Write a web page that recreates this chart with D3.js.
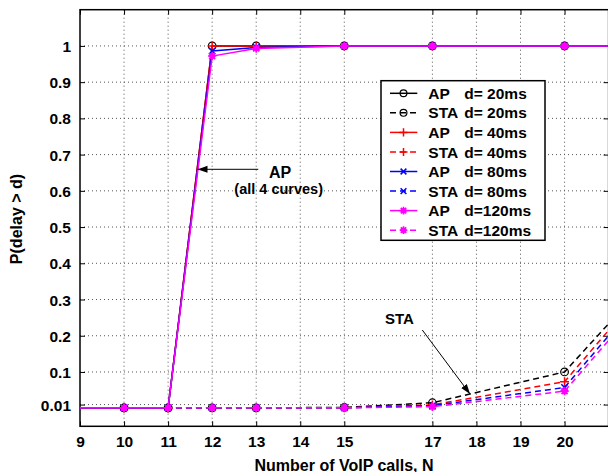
<!DOCTYPE html>
<html>
<head>
<meta charset="utf-8">
<script src="https://cdn.jsdelivr.net/npm/d3@7/dist/d3.min.js"></script>
<style>
  html, body { margin: 0; padding: 0; background: #fff; }
  svg { display: block; font-family: "Liberation Sans", Arial, Helvetica, sans-serif; font-weight: bold; }
</style>
</head>
<body>
<svg id="chart" width="608" height="472"></svg>
<script>
// ---- data ----
const calls = [8, 10, 11, 12, 13, 15, 17, 20, 22];
const AP20  = [0.001, 0.001, 0.001, 1.000, 1.000, 1, 1, 1, 1];
const AP40  = [0.001, 0.001, 0.001, 1.000, 1.000, 1, 1, 1, 1];
const AP80  = [0.001, 0.001, 0.001, 0.986, 0.996, 1, 1, 1, 1];
const AP120 = [0.001, 0.001, 0.001, 0.972, 0.993, 1, 1, 1, 1];
const STA20  = [0.001, 0.001, 0.001, 0.001, 0.001, 0.002, 0.015, 0.100, 0.366];
const STA40  = [0.001, 0.001, 0.001, 0.001, 0.001, 0.001, 0.009, 0.073, 0.357];
const STA80  = [0.001, 0.001, 0.001, 0.001, 0.001, 0.001, 0.007, 0.057, 0.343];
const STA120 = [0.001, 0.001, 0.001, 0.001, 0.001, 0.001, 0.004, 0.047, 0.327];
const xTicks = [9, 10, 11, 12, 13, 14, 15, 17, 18, 19, 20];
const yTicks = [0.01, 0.1, 0.2, 0.3, 0.4, 0.5, 0.6, 0.7, 0.8, 0.9, 1];
const legendLabels = [["AP", "d= 20ms"], ["STA", "d= 20ms"], ["AP", "d= 40ms"], ["STA", "d= 40ms"],
                      ["AP", "d= 80ms"], ["STA", "d= 80ms"], ["AP", "d=120ms"], ["STA", "d=120ms"]];

const series = [
  {vals: AP20,  color: "#000000", marker: "circle",   dashed: false},
  {vals: STA20, color: "#000000", marker: "circle",   dashed: true},
  {vals: AP40,  color: "#ff0000", marker: "plus",     dashed: false},
  {vals: STA40, color: "#ff0000", marker: "plus",     dashed: true},
  {vals: AP80,  color: "#0000ff", marker: "cross",    dashed: false},
  {vals: STA80, color: "#0000ff", marker: "cross",    dashed: true},
  {vals: AP120, color: "#ff00ff", marker: "asterisk", dashed: false},
  {vals: STA120,color: "#ff00ff", marker: "asterisk", dashed: true}
];

// ---- layout ----
const L = 80, R = 608.6, T = 9.7, B = 426.3;
const x = d3.scaleLinear().domain([9, 21]).range([L, R]);
const y = d3.scaleLinear().domain([-0.05, 1.1]).range([B, T]);

const svg = d3.select("#chart");
svg.append("defs").append("clipPath").attr("id", "clip")
  .append("rect").attr("x", L).attr("y", T).attr("width", R - L).attr("height", B - T);

// grid
const grid = svg.append("g");
grid.selectAll("line.vg").data(xTicks.filter(d => d !== 9)).join("line")
  .attr("x1", d => x(d)).attr("x2", d => x(d)).attr("y1", T).attr("y2", B)
  .attr("stroke", "#555").attr("stroke-width", 1).attr("stroke-dasharray", "1,3");
grid.selectAll("line.hg").data(yTicks).join("line")
  .attr("x1", L).attr("x2", R).attr("y1", d => y(d)).attr("y2", d => y(d))
  .attr("stroke", "#555").attr("stroke-width", 1).attr("stroke-dasharray", "1,3");

// axes (inward ticks)
const fmtY = d => (d === 1 ? "1" : String(d));
const axB = svg.append("g").attr("transform", `translate(0,${B})`)
  .call(d3.axisBottom(x).tickValues(xTicks).tickSize(-5).tickPadding(10).tickFormat(d3.format("d")));
const axT = svg.append("g").attr("transform", `translate(0,${T})`)
  .call(d3.axisTop(x).tickValues(xTicks).tickSize(-5).tickFormat(""));
const axL = svg.append("g").attr("transform", `translate(${L},0)`)
  .call(d3.axisLeft(y).tickValues(yTicks).tickSize(-5).tickPadding(9).tickFormat(fmtY));
const axR = svg.append("g").attr("transform", `translate(${R},0)`)
  .call(d3.axisRight(y).tickValues(yTicks).tickSize(-5).tickFormat(""));
[axB, axT, axL, axR].forEach(a => {
  a.select(".domain").remove();
  a.selectAll(".tick line").attr("stroke", "#000").attr("stroke-width", 1);
  a.selectAll("text").attr("fill", "#000").attr("font-size", "15.5px")
    .attr("font-weight", "bold").attr("font-family", "Liberation Sans, Arial, sans-serif");
});
axB.selectAll("text").attr("dy", "0.71em");
axL.selectAll("text").attr("dy", "0.36em");

// frame
svg.append("rect").attr("x", L).attr("y", T).attr("width", R - L).attr("height", B - T)
  .attr("fill", "none").attr("stroke", "#000").attr("stroke-width", 1.5);

// marker drawing
function drawMarker(g, type, color, cx, cy, scale = 1) {
  const s = scale;
  if (type === "circle") {
    g.append("circle").attr("cx", cx).attr("cy", cy).attr("r", 3.8 * s)
      .attr("fill", "none").attr("stroke", color).attr("stroke-width", 1.2);
  } else if (type === "plus") {
    const a = 4.5 * s;
    g.append("path").attr("d", `M${cx - a},${cy}H${cx + a}M${cx},${cy - a}V${cy + a}`)
      .attr("stroke", color).attr("stroke-width", 1.5).attr("fill", "none");
  } else if (type === "cross") {
    const a = 3.2 * s;
    g.append("path").attr("d", `M${cx - a},${cy - a}L${cx + a},${cy + a}M${cx - a},${cy + a}L${cx + a},${cy - a}`)
      .attr("stroke", color).attr("stroke-width", 1.5).attr("fill", "none");
  } else if (type === "asterisk") {
    const a = 4.2 * s, b = a * 0.72;
    g.append("circle").attr("cx", cx).attr("cy", cy).attr("r", 3 * s).attr("fill", color);
    g.append("path").attr("d",
      `M${cx - a},${cy}H${cx + a}M${cx},${cy - a}V${cy + a}M${cx - b},${cy - b}L${cx + b},${cy + b}M${cx - b},${cy + b}L${cx + b},${cy - b}`)
      .attr("stroke", color).attr("stroke-width", 1.6).attr("fill", "none");
  }
}

// series
const plot = svg.append("g").attr("clip-path", "url(#clip)");
const line = d3.line().x((d, i) => x(calls[i])).y(d => y(d));
series.forEach(s => {
  plot.append("path").attr("d", line(s.vals))
    .attr("fill", "none").attr("stroke", s.color).attr("stroke-width", 1.5)
    .attr("stroke-dasharray", s.dashed ? "6,4" : null);
  const mg = plot.append("g");
  s.vals.forEach((v, i) => drawMarker(mg, s.marker, s.color, x(calls[i]), y(v)));
});

// legend
const lg = svg.append("g");
lg.append("rect").attr("x", 381).attr("y", 80.7).attr("width", 164).attr("height", 159.6)
  .attr("fill", "#fff").attr("stroke", "#000").attr("stroke-width", 1.5);
series.forEach((s, i) => {
  const cy = 93.3 + i * 19.55;
  lg.append("line").attr("x1", 390).attr("x2", 417.3).attr("y1", cy).attr("y2", cy)
    .attr("stroke", s.color).attr("stroke-width", 1.5)
    .attr("stroke-dasharray", s.dashed ? "6,4" : null);
  drawMarker(lg, s.marker, s.color, 403.5, cy, 0.9);
  lg.append("text").attr("x", 428.3).attr("y", cy + 5.6).attr("font-size", "15.5px").text(legendLabels[i][0]);
  lg.append("text").attr("x", 464.3).attr("y", cy + 5.6).attr("font-size", "15.5px").text(legendLabels[i][1]);
});

// annotations
svg.append("defs").append("marker").attr("id", "arrow").attr("viewBox", "0 0 10 10")
  .attr("refX", 10).attr("refY", 5).attr("markerWidth", 10).attr("markerHeight", 10)
  .attr("markerUnits", "userSpaceOnUse").attr("orient", "auto")
  .append("path").attr("d", "M0,1.5L10,5L0,8.5Z").attr("fill", "#000");
svg.append("line").attr("x1", 258.3).attr("y1", 169.3).attr("x2", 197.5).attr("y2", 169.3)
  .attr("stroke", "#000").attr("stroke-width", 1).attr("marker-end", "url(#arrow)");
svg.append("text").attr("x", 280).attr("y", 178.3).attr("text-anchor", "middle")
  .attr("font-size", "16px").text("AP");
svg.append("text").attr("x", 278.7).attr("y", 193.5).attr("text-anchor", "middle")
  .attr("font-size", "14.5px").text("(all 4 curves)");
svg.append("line").attr("x1", 422.3).attr("y1", 330).attr("x2", 470).attr("y2", 394)
  .attr("stroke", "#000").attr("stroke-width", 1).attr("marker-end", "url(#arrow)");
svg.append("text").attr("x", 399.5).attr("y", 323.5).attr("text-anchor", "middle")
  .attr("font-size", "15px").text("STA");

// axis labels
svg.append("text").attr("x", 344).attr("y", 470.5).attr("text-anchor", "middle")
  .attr("font-size", "16px").text("Number of VoIP calls, N");
svg.append("text").attr("transform", "translate(21.5,219) rotate(-90)").attr("text-anchor", "middle")
  .attr("font-size", "16px").text("P(delay > d)");
</script>
</body>
</html>
